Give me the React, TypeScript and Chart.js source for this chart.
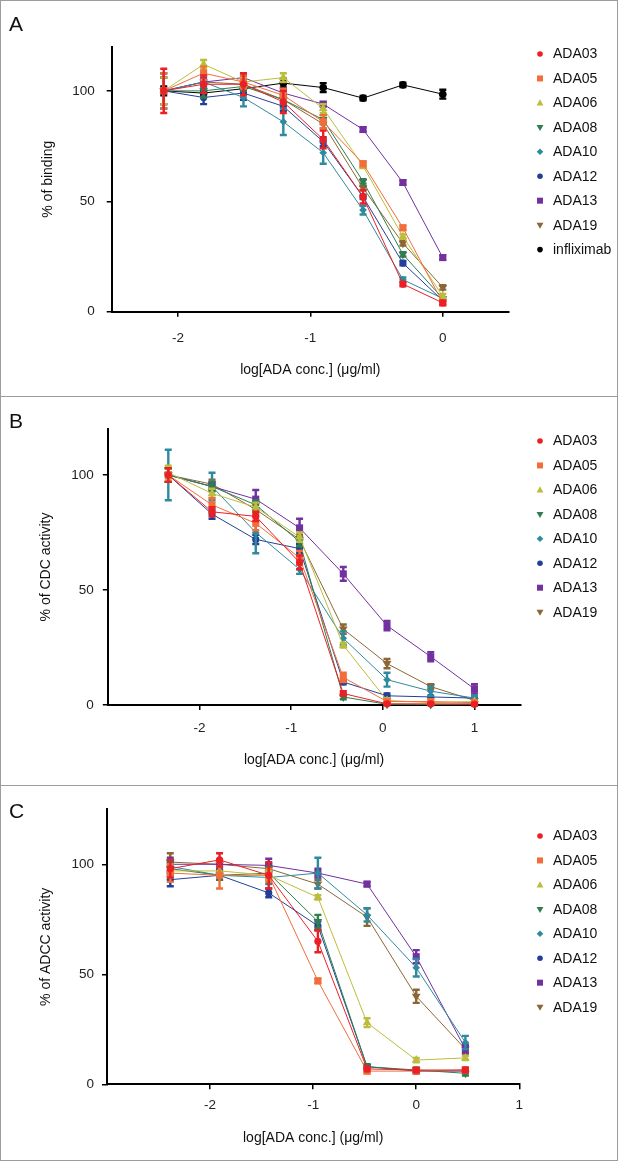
import React, { useEffect, useRef } from 'react';
import { Chart, registerables } from 'chart.js';

Chart.register(...registerables);
Chart.defaults.font.family = "'Liberation Sans', Arial, sans-serif";

// ---------- names & styles ----------
const seriesNames = ['ADA03', 'ADA05', 'ADA06', 'ADA08', 'ADA10', 'ADA12', 'ADA13', 'ADA19'];
const seriesColors = ['#ec1f24', '#f26d3a', '#bcbd3c', '#2f7d50', '#2e8a9e', '#22409a', '#71319f', '#8c6735'];
const seriesMarkers = ['circle', 'rect', 'triangle', 'triangle', 'rectRot', 'circle', 'rect', 'triangle'];
const seriesRotations = [0, 0, 0, 180, 0, 0, 0, 180];
const seriesRadius = [3.6, 5, 5, 5, 3.8, 3.6, 5, 5];
const controlName = 'infliximab';
const controlColor = '#000000';

// ---------- Panel A: binding ----------
const aX = [-2.107, -1.806, -1.505, -1.204, -0.903, -0.602, -0.301, 0];
const aADA03 = [100, 103, 103, 95, 78, 52, 12.5, 4];
const aADA05 = [100, 108, 104, 98, 86, 67, 38, 4];
const aADA06 = [100, 112, 104, 106, 92, 66, 34, 7];
const aADA08 = [100, 100, 102, 96, 87, 59, 26, 6];
const aADA10 = [100, 104, 97, 86, 72, 46, 14.5, 6];
const aADA12 = [100, 97, 99, 93, 77, 52, 22, 5];
const aADA13 = [100, 104, 106, 99, 94, 82.5, 58.5, 24.5];
const aADA19 = [100, 104, 103, 96, 85, 56, 31, 11];
const aInfliximab = [100, 99, 101, 103.5, 101.5, 96.7, 102.7, 98.5];
const aErr03 = [10, 4, 5, 5, 4, 3, 1, 1];
const aErr05 = [8, 3, 3, 3, 3, 1, 1, 1];
const aErr06 = [6, 2, 2, 2, 2, 1, 1, 1];
const aErr08 = [6, 3, 2, 2, 2, 1, 1, 0];
const aErr10 = [8, 3, 4, 6, 5, 2, 1, 0];
const aErr12 = [8, 3, 3, 2, 2, 1, 1, 0];
const aErr13 = [6, 2, 2, 2, 1, 1, 1, 1];
const aErr19 = [6, 3, 2, 2, 2, 1, 1, 1];
const aErrInfliximab = [2, 1, 1, 2, 2, 1, 1, 2];
const aXTicks = [-2, -1, 0];
const aYTicks = [0, 50, 100];

// ---------- Panel B: CDC ----------
const bX = [-2.34, -1.863, -1.386, -0.908, -0.431, 0.046, 0.523, 1.0];
const bADA03 = [100, 84, 82, 62, 5, 0.5, 0.5, 0.3];
const bADA05 = [100, 87, 79, 64, 12, 1.5, 1.5, 1];
const bADA06 = [101, 92, 86, 73, 26, 2, 1, 1.5];
const bADA08 = [100, 95, 87, 71, 3.5, 0.3, 0.2, 0.5];
const bADA10 = [100, 95, 75, 59, 29, 11, 6, 3];
const bADA12 = [100, 83, 72, 68, 10, 4, 3.5, 3];
const bADA13 = [100, 95, 89.5, 77, 57, 34.5, 21, 7];
const bADA19 = [100, 96, 85, 72, 33, 18, 8, 2];
const bErr03 = [3, 2, 2, 3, 1, 0.5, 0.5, 0.5];
const bErr05 = [3, 3, 3, 3, 2, 1, 1, 1];
const bErr06 = [3, 2, 2, 2, 1, 1, 0, 0];
const bErr08 = [3, 2, 2, 2, 1, 0, 0, 0];
const bErr10 = [11, 6, 9, 2, 3, 3, 2, 1];
const bErr12 = [3, 2, 2, 2, 1, 1, 0, 0];
const bErr13 = [3, 2, 4, 4, 3, 2, 2, 2];
const bErr19 = [3, 2, 2, 2, 2, 2, 1, 1];
const bXTicks = [-2, -1, 0, 1];
const bYTicks = [0, 50, 100];

// ---------- Panel C: ADCC ----------
const cX = [-2.386, -1.908, -1.431, -0.954, -0.477, 0, 0.477];
const cADA03 = [98, 102, 95, 65, 7, 6.5, 6.5];
const cADA05 = [96, 95, 95, 47, 6, 6, 6.5];
const cADA06 = [97, 97, 95, 85, 28, 11, 12];
const cADA08 = [98, 95, 96, 74, 8, 6.5, 5];
const cADA10 = [99, 95, 94, 96, 77, 53, 19];
const cADA12 = [93, 95, 87, 72, 8, 6, 6];
const cADA13 = [100, 100, 99.5, 96, 91, 58, 16];
const cADA19 = [101, 100, 98, 91, 76, 40, 16];
const cErr03 = [4, 3, 6, 5, 1, 1, 1];
const cErr05 = [4, 6, 3, 1, 1, 1, 1];
const cErr06 = [3, 2, 2, 1, 2, 1, 1];
const cErr08 = [3, 2, 3, 3, 1, 1, 1];
const cErr10 = [3, 2, 3, 7, 3, 4, 3];
const cErr12 = [3, 2, 2, 2, 1, 1, 1];
const cErr13 = [3, 2, 3, 2, 1, 3, 2];
const cErr19 = [4, 2, 2, 2, 4, 3, 2];
const cXTicks = [-2, -1, 0, 1];
const cYTicks = [0, 50, 100];

const xTitle = 'log[ADA conc.] (\u03bcg/ml)';

// ---------- plugins ----------
function drawMarker(ctx: CanvasRenderingContext2D, style: string, rot: number, x: number, y: number, r: number, color: string) {
  ctx.save();
  ctx.fillStyle = color;
  ctx.strokeStyle = color;
  ctx.translate(x, y);
  ctx.rotate((rot * Math.PI) / 180);
  ctx.beginPath();
  if (style === 'circle') {
    ctx.arc(0, 0, r, 0, Math.PI * 2);
  } else if (style === 'rect') {
    ctx.rect(-r, -r, 2 * r, 2 * r);
  } else if (style === 'triangle') {
    ctx.moveTo(0, -r * 1.1);
    ctx.lineTo(r * 1.05, r * 0.75);
    ctx.lineTo(-r * 1.05, r * 0.75);
    ctx.closePath();
  } else if (style === 'rectRot') {
    ctx.moveTo(0, -r);
    ctx.lineTo(r, 0);
    ctx.lineTo(0, r);
    ctx.lineTo(-r, 0);
    ctx.closePath();
  }
  ctx.fill();
  ctx.restore();
}

const errorBarPlugin = {
  id: 'errorBars',
  beforeDatasetDraw(chart: any, args: any) {
    const ds: any = chart.data.datasets[args.index];
    const errs: number[] | undefined = ds.errors;
    if (!errs) return;
    const yScale = chart.scales.y;
    const ctx = chart.ctx;
    ctx.save();
    ctx.strokeStyle = ds.borderColor;
    ctx.lineWidth = 2.4;
    args.meta.data.forEach((pt: any, i: number) => {
      const e = errs[i];
      const v = ds.data[i].y;
      if (!e) return;
      const x = pt.x;
      const yt = yScale.getPixelForValue(v + e);
      const yb = yScale.getPixelForValue(v - e);
      ctx.beginPath();
      ctx.moveTo(x, yt);
      ctx.lineTo(x, yb);
      ctx.moveTo(x - 3.5, yt);
      ctx.lineTo(x + 3.5, yt);
      ctx.moveTo(x - 3.5, yb);
      ctx.lineTo(x + 3.5, yb);
      ctx.stroke();
    });
    ctx.restore();
  },
};

const legendPlugin = {
  id: 'sideLegend',
  afterDraw(chart: any) {
    const o = chart.options.plugins.sideLegend;
    if (!o) return;
    const ctx = chart.ctx;
    chart.data.datasets.forEach((ds: any, i: number) => {
      const y = o.top + i * o.step;
      drawMarker(ctx, ds.pointStyle, ds.pointRotation || 0, o.markerX, y, ds.legendRadius, ds.borderColor);
      ctx.save();
      ctx.fillStyle = '#111';
      ctx.font = "14px 'Liberation Sans', Arial, sans-serif";
      ctx.textBaseline = 'middle';
      ctx.textAlign = 'left';
      ctx.fillText(ds.label, o.textX, y + 0.5);
      ctx.restore();
    });
  },
};

Chart.register(errorBarPlugin, legendPlugin);

type PanelCfg = {
  height: number;
  xs: number[];
  series: number[][];
  errors: number[][];
  names: string[];
  colors: string[];
  markers: string[];
  rotations: number[];
  radii: number[];
  xMin: number;
  xMax: number;
  yMax: number;
  xTicks: number[];
  yTicks: number[];
  yTitle: string;
  chartLeft: number;
  chartRight: number;
  chartTop: number;
  chartBottom: number;
  yTitlePad: number;
  xTitlePad: number;
  yTickPad: number;
  xTickPad: number;
  legendTop: number;
};

function buildConfig(p: PanelCfg): any {
  const datasets = p.series.map((vals, i) => ({
    label: p.names[i],
    data: vals.map((v, j) => ({ x: p.xs[j], y: v })),
    errors: p.errors[i],
    borderColor: p.colors[i],
    backgroundColor: p.colors[i],
    pointStyle: p.markers[i],
    pointRotation: p.rotations[i],
    pointRadius: p.radii[i],
    pointBorderWidth: 0,
    legendRadius: p.markers[i] === 'rect' ? 3 : p.markers[i] === 'circle' ? 2.8 : 3.3,
    borderWidth: 1,
    tension: 0,
    clip: false,
  }));
  const tickFont = { size: 13.5 };
  return {
    type: 'line',
    data: { datasets },
    options: {
      animation: false,
      responsive: false,
      maintainAspectRatio: false,
      layout: {
        padding: { left: 0, top: p.chartTop, right: 619 - p.chartRight, bottom: 0 },
      },
      plugins: {
        legend: { display: false },
        tooltip: { enabled: false },
        sideLegend: { top: p.legendTop, step: 24.45, markerX: 540, textX: 553 },
      },
      scales: {
        x: {
          type: 'linear',
          min: p.xMin,
          max: p.xMax,
          afterBuildTicks: (s: any) => {
            s.ticks = p.xTicks.map((v) => ({ value: v }));
          },
          afterFit: (s: any) => {
            s.height = p.height - p.chartBottom;
          },
          ticks: { color: '#222', font: tickFont, padding: p.xTickPad, maxRotation: 0 },
          grid: { display: true, drawOnChartArea: false, drawTicks: true, tickLength: 5, color: '#000', lineWidth: 1.5 },
          border: { display: true, color: '#000', width: 2 },
          title: { display: true, text: xTitle, color: '#111', font: { size: 14 }, padding: { top: 0, bottom: p.xTitlePad } },
        },
        y: {
          type: 'linear',
          min: 0,
          max: p.yMax,
          afterBuildTicks: (s: any) => {
            s.ticks = p.yTicks.map((v) => ({ value: v }));
          },
          afterFit: (s: any) => {
            s.width = p.chartLeft;
          },
          ticks: { color: '#222', font: tickFont, padding: p.yTickPad },
          grid: { display: true, drawOnChartArea: false, drawTicks: true, tickLength: 5, color: '#000', lineWidth: 1.5 },
          border: { display: true, color: '#000', width: 2 },
          title: { display: true, text: p.yTitle, color: '#111', font: { size: 14 }, padding: { top: p.yTitlePad, bottom: 0 } },
        },
      },
    },
  };
}

function Panel({ cfg, top, letter, letterTop }: { cfg: PanelCfg; top: number; letter: string; letterTop: number }) {
  const ref = useRef<HTMLCanvasElement>(null);
  useEffect(() => {
    if (!ref.current) return;
    const chart = new Chart(ref.current, buildConfig(cfg));
    return () => chart.destroy();
  }, [cfg]);
  return (
    <>
      <canvas
        ref={ref}
        width={619}
        height={cfg.height}
        style={{ position: 'absolute', left: 0, top, width: 619, height: cfg.height }}
      />
      <div
        style={{
          position: 'absolute',
          left: 9,
          top: letterTop,
          fontFamily: "'Liberation Sans', Arial, sans-serif",
          fontSize: 21,
          lineHeight: '21px',
          color: '#111',
        }}
      >
        {letter}
      </div>
    </>
  );
}

const base = {
  names: seriesNames,
  colors: seriesColors,
  markers: seriesMarkers,
  rotations: seriesRotations,
  radii: seriesRadius,
};

const panelA: PanelCfg = {
  ...base,
  names: [...seriesNames, controlName],
  colors: [...seriesColors, controlColor],
  markers: [...seriesMarkers, 'circle'],
  rotations: [...seriesRotations, 0],
  radii: [...seriesRadius, 3.8],
  height: 397,
  xs: aX,
  series: [aADA03, aADA05, aADA06, aADA08, aADA10, aADA12, aADA13, aADA19, aInfliximab],
  errors: [aErr03, aErr05, aErr06, aErr08, aErr10, aErr12, aErr13, aErr19, aErrInfliximab],
  xMin: -2.5,
  xMax: 0.5,
  yMax: 120,
  xTicks: aXTicks,
  yTicks: aYTicks,
  yTitle: '% of binding',
  chartLeft: 111.7,
  chartRight: 509,
  chartTop: 46.7,
  chartBottom: 311.7,
  yTitlePad: 39.6,
  xTitlePad: 18.6,
  yTickPad: 12,
  xTickPad: 13,
  legendTop: 54,
};

const panelB: PanelCfg = {
  ...base,
  height: 389,
  xs: bX,
  series: [bADA03, bADA05, bADA06, bADA08, bADA10, bADA12, bADA13, bADA19],
  errors: [bErr03, bErr05, bErr06, bErr08, bErr10, bErr12, bErr13, bErr19],
  xMin: -3,
  xMax: 1.5,
  yMax: 120,
  xTicks: bXTicks,
  yTicks: bYTicks,
  yTitle: '% of CDC activity',
  chartLeft: 107.8,
  chartRight: 520.3,
  chartTop: 32,
  chartBottom: 308,
  yTitlePad: 38.2,
  xTitlePad: 17.6,
  yTickPad: 9,
  xTickPad: 10,
  legendTop: 44,
};

const panelC: PanelCfg = {
  ...base,
  height: 376,
  xs: cX,
  series: [cADA03, cADA05, cADA06, cADA08, cADA10, cADA12, cADA13, cADA19],
  errors: [cErr03, cErr05, cErr06, cErr08, cErr10, cErr12, cErr13, cErr19],
  xMin: -3,
  xMax: 1,
  yMax: 125,
  xTicks: cXTicks,
  yTicks: cYTicks,
  yTitle: '% of ADCC activity',
  chartLeft: 107,
  chartRight: 519.3,
  chartTop: 23.3,
  chartBottom: 298.3,
  yTitlePad: 37.6,
  xTitlePad: 15.6,
  yTickPad: 8,
  xTickPad: 8,
  legendTop: 50,
};

export default function App() {
  const line = '#9c9c9c';
  return (
    <div style={{ position: 'absolute', left: 0, top: 0, width: 619, height: 1162, background: '#fff', overflow: 'hidden' }}>
      <Panel cfg={panelA} top={0} letter="A" letterTop={13} />
      <Panel cfg={panelB} top={397} letter="B" letterTop={410} />
      <Panel cfg={panelC} top={786} letter="C" letterTop={800} />
      <div style={{ position: 'absolute', left: 0, top: 0, width: 616, height: 1159, border: `1px solid ${line}`, pointerEvents: 'none' }} />
      <div style={{ position: 'absolute', left: 0, top: 396, width: 618, height: 1, background: line }} />
      <div style={{ position: 'absolute', left: 0, top: 785, width: 618, height: 1, background: line }} />
    </div>
  );
}
